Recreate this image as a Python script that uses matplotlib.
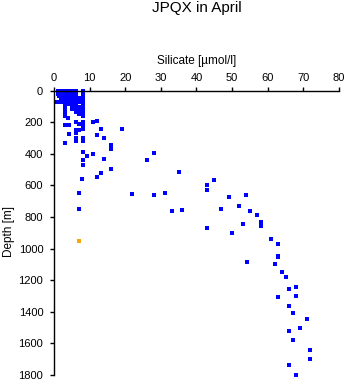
import matplotlib
matplotlib.use("Agg")
import matplotlib.pyplot as plt

# silicate [umol/l] and depth [m]
silicate = [
    1, 1.5, 2, 2.5, 3, 3.5, 4, 4.5, 5.2, 5.5, 6.2, 8.1,
    1, 2, 2.5, 3.5, 4, 6.2, 8.1,
    1, 1.5, 2, 3, 4, 4.5, 5.1, 8.1,
    1, 2, 3, 3.5, 4, 8.1,
    1.5, 2.5, 3, 4, 5, 6.2, 8.1,
    2, 3, 4, 4.5, 5.1, 6.2, 7.1, 8.1,
    0.9, 1.5, 2.2, 3.1, 3.5, 4, 4.5, 5.1, 6.2, 7.1, 8.1,
    3.1, 4.1, 4.5, 5.5, 6.2, 8.1,
    5.1, 6.2, 7.1, 8.1,
    3.1, 5.1, 6.2, 7.6,
    5.1, 7.1, 8.1,
    7.1, 7.6, 8.1,
    3.1, 6.2, 8.1,
    7.1, 7.6, 8.1,
    3.1, 8.1,
    4.0,
    6.2, 7.1, 8.2, 8.2, 11, 12.2, 13.1, 19.2, 3.1, 4.2,
    6.2, 6.2, 7.1, 4.2, 8.2, 12.2, 14.1, 6.2, 6.2, 8.2,
    8.2, 3.1, 16.1, 16.1, 8.2, 9.2, 11, 14.1, 8.2, 8.2,
    16.1, 13.1, 8.0, 12.2, 7.1, 22, 28.2, 31.2, 35.1, 7.1,
    33.1, 36, 28.2, 26.2, 43, 45, 43, 49, 54, 47,
    52, 55.1, 57.1, 53, 43, 58, 58, 50.1, 61, 63,
    63, 63, 54.1, 62.1, 64.1, 65.1, 68, 66, 68, 63,
    66, 67, 71.1, 69.1, 66, 67, 72, 72, 66, 68,
]
depth = [
    0, 0, 0, 0, 0, 0, 0, 0, 0, 0, 0, 0,
    8, 8, 8, 8, 8, 8, 8,
    15, 15, 15, 15, 15, 15, 15, 15,
    25, 25, 25, 25, 25, 25,
    35, 35, 35, 35, 35, 35, 35,
    50, 50, 50, 50, 50, 50, 50, 50,
    72, 72, 72, 72, 72, 72, 72, 72, 72, 72, 72,
    88, 88, 88, 88, 88, 88,
    102, 102, 102, 102,
    111, 111, 111, 111,
    119, 119, 119,
    130, 130, 130,
    136, 136, 136,
    148, 148, 148,
    161, 161,
    172,
    199, 210, 199, 225, 197, 193, 246, 241, 220, 220,
    250, 271, 250, 277, 246, 283, 298, 298, 319, 302,
    322, 330, 343, 368, 387, 414, 400, 435, 440, 473,
    499, 524, 562, 545, 650, 655, 663, 650, 518, 751,
    762, 758, 397, 442, 598, 568, 629, 676, 663, 747,
    732, 764, 789, 845, 872, 834, 859, 903, 939, 973,
    1047, 1055, 1087, 1099, 1150, 1181, 1245, 1256, 1302, 1306,
    1365, 1405, 1443, 1500, 1523, 1580, 1643, 1700, 1738, 1800,
]

# single highlighted sample
flag_silicate = [7.1]
flag_depth = [954]

x_ticks = [0, 10, 20, 30, 40, 50, 60, 70, 80]
y_ticks = [0, 200, 400, 600, 800, 1000, 1200, 1400, 1600, 1800]

plt.rcParams['font.family'] = ['Liberation Sans', 'DejaVu Sans']

fig = plt.figure(figsize=(3.48, 3.84), dpi=100)
ax = fig.add_axes([0.155, 0.0234, 0.819, 0.7409])

ax.plot(silicate, depth, linestyle='none', marker='s', markersize=2.3,
        color='#0000ff', markeredgewidth=0, clip_on=False)
ax.plot(flag_silicate, flag_depth, linestyle='none', marker='s', markersize=2.3,
        color='#ffa500', markeredgewidth=0, clip_on=False)

ax.set_xlim(0, 80)
ax.set_ylim(1800, 0)
ax.set_xticks(x_ticks)
ax.set_yticks(y_ticks)

ax.xaxis.tick_top()
ax.tick_params(axis='x', direction='out', length=3.2, width=1.0, pad=2, labelsize=8)
ax.tick_params(axis='y', direction='out', length=3.2, width=1.0, pad=4.5, labelsize=8)

for side in ['right', 'bottom']:
    ax.spines[side].set_visible(False)
for side in ['left', 'top']:
    ax.spines[side].set_linewidth(1.0)

fig.text(0.565, 0.978, 'JPQX in April', ha='center', va='center', fontsize=11)
fig.text(0.565, 0.841, 'Silicate [µmol/l]', ha='center', va='center', fontsize=8.5)
fig.text(0.025, 0.396, 'Depth [m]', ha='center', va='center', rotation=90, fontsize=8.5)

plt.savefig('out.png', dpi=100)
